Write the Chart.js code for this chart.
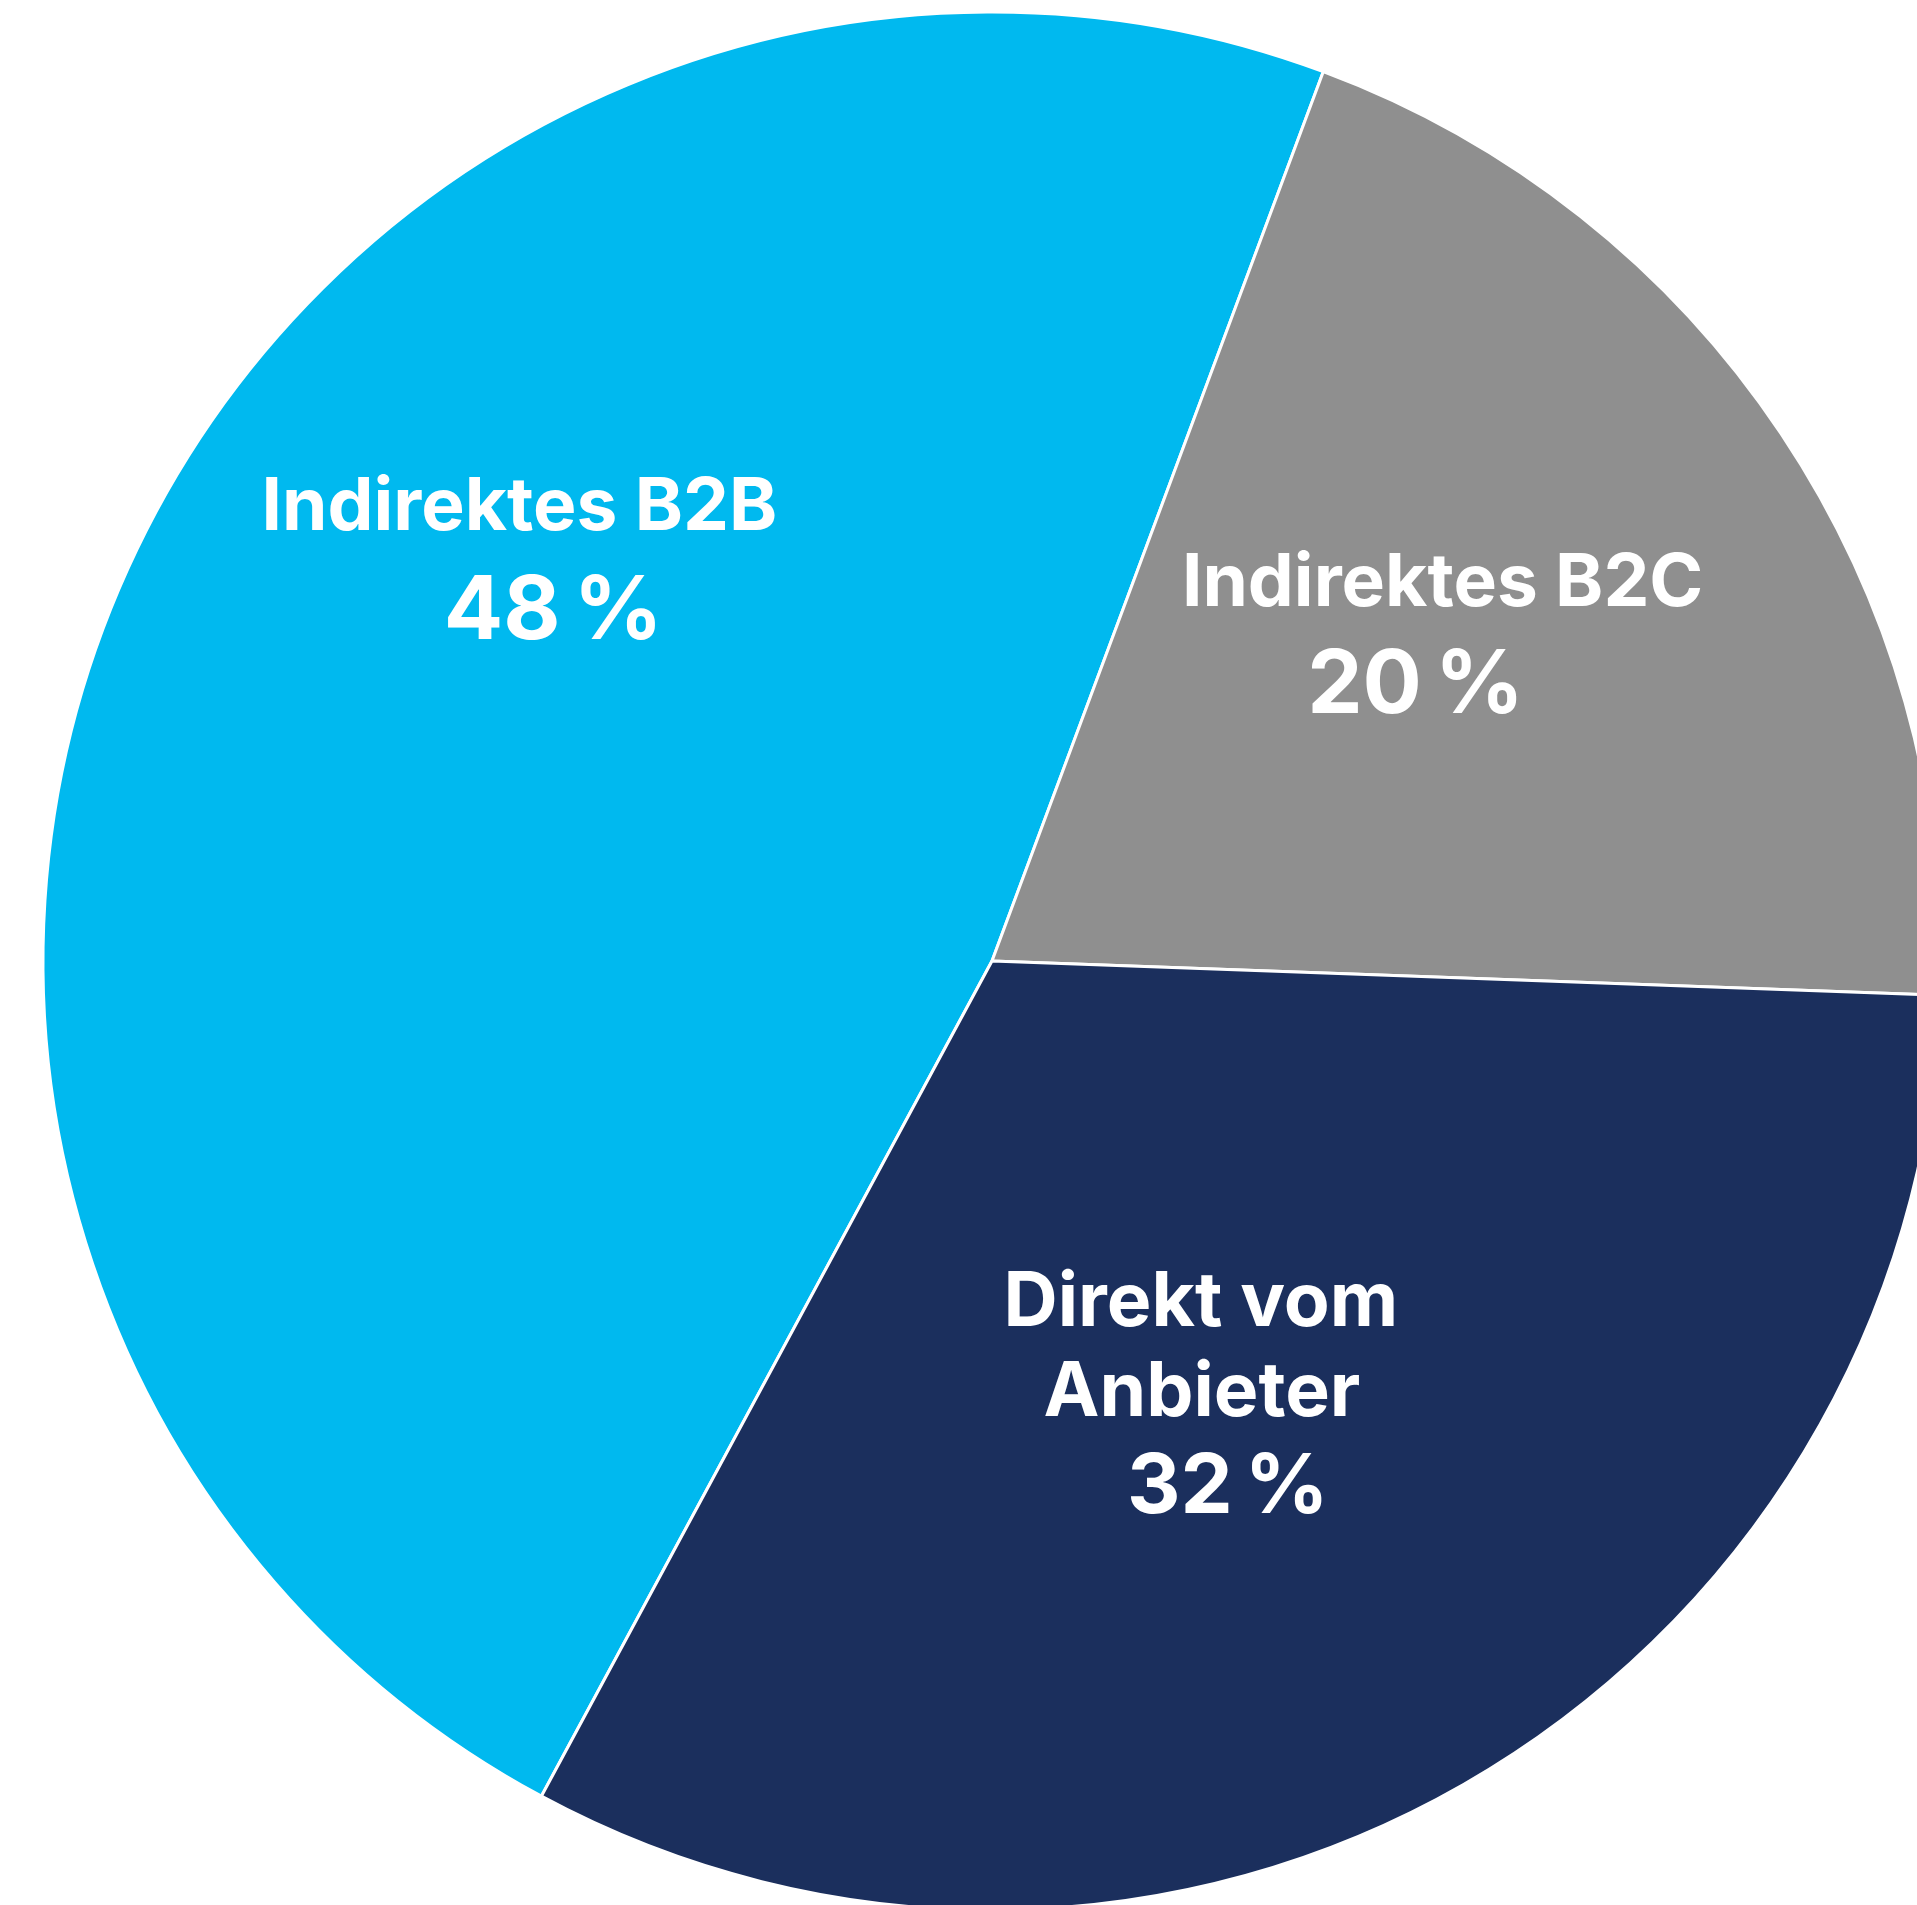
<!DOCTYPE html>
<html>
<head>
<meta charset="utf-8">
<script src="https://cdn.jsdelivr.net/npm/chart.js@4/dist/chart.umd.min.js"></script>
<style>
  html, body { margin: 0; padding: 0; background: #ffffff; overflow: hidden; }
  #wrap { position: absolute; left: 0; top: 0; width: 1984px; height: 1922px; }
</style>
</head>
<body>
<div id="wrap"><canvas id="pie" width="1984" height="1922"></canvas></div>
<script>
// Vertriebswege pie
const categories = ["Indirektes B2B", "Indirektes B2C", "Direkt vom Anbieter"];
// slice sizes (labels round them)
const shares = [47.8, 19.9, 32.3];
const sliceColors = ["#00b9ef", "#8f8f8f", "#1b2f5d"];

// label text per slice, one entry per line
const labelLines = [
  ["Indirektes B2B", "48 %"],
  ["Indirektes B2C", "20 %"],
  ["Direkt vom", "Anbieter", "32 %"],
];

// where the label sits inside the slice: angle (deg, canvas) and fraction of radius
const labelAnchor = [
  { angle: -137.64, frac: 0.674 },
  { angle: -38.22, frac: 0.6044 },
  { angle: 60.2, frac: 0.443 },
];
// per line: dx, dy from anchor and font size
const labelLayout = [
  [{ dx: 0, dy: 0, size: 73 }, { dx: 34, dy: 109, size: 88 }],
  [{ dx: 0, dy: 0, size: 73 }, { dx: -27, dy: 107, size: 88 }],
  [{ dx: 0, dy: 0, size: 75 }, { dx: 1, dy: 90, size: 75 }, { dx: 27, dy: 187, size: 83 }],
];

const FONT = "Inter, 'Noto Sans', sans-serif";

const sliceLabels = {
  id: "sliceLabels",
  afterDatasetsDraw(chart) {
    const ctx = chart.ctx;
    const arcs = chart.getDatasetMeta(0).data;
    ctx.save();
    ctx.fillStyle = "#ffffff";
    ctx.textAlign = "center";
    ctx.textBaseline = "alphabetic";
    arcs.forEach((arc, i) => {
      const a = (labelAnchor[i].angle * Math.PI) / 180;
      const r = arc.outerRadius * labelAnchor[i].frac;
      const x0 = arc.x + Math.cos(a) * r;
      const y0 = arc.y + Math.sin(a) * r;
      labelLines[i].forEach((line, j) => {
        const l = labelLayout[i][j];
        ctx.font = `700 ${l.size}px ${FONT}`;
        // percent lines have a tighter gap before the sign
        ctx.wordSpacing = line.includes("%") ? "-8px" : "0px";
        ctx.fillText(line, x0 + l.dx, y0 + l.dy);
      });
    });
    ctx.restore();
  },
};

new Chart(document.getElementById("pie"), {
  type: "pie",
  data: {
    labels: categories,
    datasets: [
      {
        data: shares,
        backgroundColor: sliceColors,
        borderColor: "#ffffff",
        borderWidth: 3,
      },
    ],
  },
  options: {
    responsive: false,
    animation: false,
    radius: 949,
    rotation: -151.65,
    layout: { padding: 0 },
    plugins: {
      legend: { display: false },
      tooltip: { enabled: false },
    },
  },
  plugins: [sliceLabels],
});
</script>
</body>
</html>
